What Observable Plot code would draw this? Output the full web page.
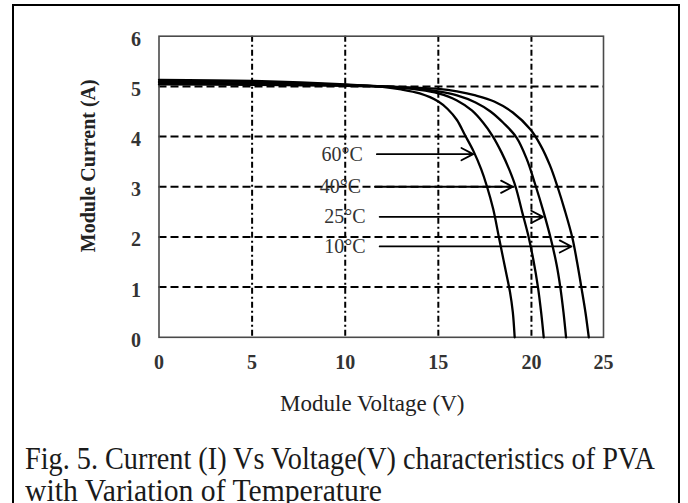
<!DOCTYPE html>
<html>
<head>
<meta charset="utf-8">
<script src="https://cdn.jsdelivr.net/npm/d3@7"></script>
<script src="https://cdn.jsdelivr.net/npm/@observablehq/plot@0.6"></script>
<style>
  html, body { margin: 0; padding: 0; background: #fff; width: 688px; height: 503px; overflow: hidden; }
  #box { position: absolute; left: 11.7px; top: 4.3px; width: 668.3px; height: 520px; border: 2.4px solid #000; box-sizing: border-box; }
  #chart { position: absolute; left: 0; top: 0; }
  .cap { position: absolute; left: 25px; font-family: "Liberation Serif", serif; font-size: 31px; line-height: 32px; color: #1a1a1a; white-space: nowrap; transform-origin: 0 0; }
</style>
</head>
<body>
<div id="box"></div>
<div id="chart"></div>
<div class="cap" id="cap1" style="top:443px">Fig. 5. Current (I) Vs Voltage(V) characteristics of PVA</div>
<div class="cap" id="cap2" style="top:475px">with Variation of Temperature</div>
<script>
// Temperatures (series)
const temps = ["60°C", "40°C", "25°C", "10°C"];

// I–V curves
const voltage60 = [0, 5, 10, 12, 13, 14, 15, 15.5, 16, 16.4, 16.9, 17.3, 17.6, 17.95, 18.25, 18.55, 18.85, 19.0, 19.1];
const current60 = [5.13, 5.11, 5.04, 4.99, 4.94, 4.86, 4.7, 4.55, 4.33, 4.05, 3.7, 3.35, 3.02, 2.55, 2.0, 1.45, 0.9, 0.5, 0];

const voltage40 = [0, 5, 10, 12, 14, 15, 16, 16.8, 17.4, 17.9, 18.4, 18.8, 19.15, 19.5, 19.85, 20.1, 20.35, 20.52, 20.66];
const current40 = [5.10, 5.09, 5.03, 5.0, 4.93, 4.86, 4.72, 4.52, 4.28, 4.02, 3.68, 3.35, 3.0, 2.5, 2.0, 1.55, 1.0, 0.5, 0];

const voltage25 = [0, 5, 10, 12, 14, 15, 16, 17, 17.8, 18.5, 19.2, 19.75, 20.2, 20.65, 21.05, 21.35, 21.55, 21.72, 21.86];
const current25 = [5.07, 5.06, 5.02, 5.0, 4.95, 4.9, 4.82, 4.68, 4.5, 4.27, 3.98, 3.55, 3.05, 2.5, 1.95, 1.45, 1.0, 0.5, 0];

const voltage10 = [0, 5, 10, 12, 14, 15, 16, 17, 18, 19, 19.95, 20.5, 21.0, 21.4, 21.8, 22.2, 22.45, 22.68, 22.9, 23.08];
const current10 = [5.04, 5.03, 5.01, 5.0, 4.97, 4.95, 4.9, 4.82, 4.7, 4.48, 4.14, 3.82, 3.42, 3.0, 2.52, 1.98, 1.5, 1.0, 0.5, 0];

// Annotation arrows (label, start voltage, end voltage, current level)
const arrowLabels = ["60°C", "40°C", "25°C", "10°C"];
const arrowStart = [11.7, 11.6, 11.85, 11.85];
const arrowEnd = [16.87, 19.0, 20.62, 22.15];
const arrowLevel = [3.65, 3.0, 2.4, 1.81];

// Axes
const xMax = 23.87;
const xGrid = [5, 10, 15, 20];
const yGrid = [1, 2, 3, 4, 5];
const xTickValues = [0, 5, 10, 15, 20, xMax];
const xTickLabels = ["0", "5", "10", "15", "20", "25"];
const yTickValues = [0, 1, 2, 3, 4, 5, 6];
const yTickLabels = ["0", "1", "2", "3", "4", "5", "6"];

const series = [
  [temps[0], voltage60, current60],
  [temps[1], voltage40, current40],
  [temps[2], voltage25, current25],
  [temps[3], voltage10, current10]
];
const rows = series.flatMap(([t, vs, is]) => vs.map((v, k) => ({temp: t, v, i: is[k]})));
const arrows = arrowLabels.map((label, k) => ({label, x1: arrowStart[k], x2: arrowEnd[k], y: arrowLevel[k]}));

const serif = "'Liberation Serif', 'Times New Roman', serif";

const plot = Plot.plot({
  width: 688,
  height: 430,
  marginLeft: 158.5,
  marginRight: 85,
  marginTop: 35.7,
  marginBottom: 93.2,
  style: {fontFamily: serif, background: "transparent"},
  x: {domain: [0, xMax], axis: null},
  y: {domain: [0, 6], axis: null},
  marks: [
    Plot.gridX(xGrid, {stroke: "#000", strokeOpacity: 1, strokeWidth: 2, strokeDasharray: "6,3,2,3"}),
    Plot.gridY(yGrid, {stroke: "#000", strokeOpacity: 1, strokeWidth: 2, strokeDasharray: "8,4"}),
    Plot.frame({stroke: "#4a4a4a", strokeWidth: 1.6}),
    Plot.line(rows, {x: "v", y: "i", z: "temp", stroke: "#000", strokeWidth: 2.3, curve: "catmull-rom"}),
    Plot.arrow(arrows, {x1: "x1", y1: "y", x2: "x2", y2: "y", bend: 0, stroke: "#000", strokeWidth: 1.8, headAngle: 55, headLength: 11}),
    Plot.text(arrows, {x: "x1", y: "y", text: "label", textAnchor: "end", dx: -14, fontSize: 20, fill: "#333"}),
    Plot.axisX(xTickValues, {tickSize: 0, tickPadding: 17, fontSize: 20, fontWeight: "bold", color: "#333", label: null,
      tickFormat: d => xTickLabels[xTickValues.indexOf(d)]}),
    Plot.axisY(yTickValues, {tickSize: 0, tickPadding: 18, fontSize: 20, fontWeight: "bold", color: "#333", label: null, dy: 3,
      tickFormat: d => yTickLabels[yTickValues.indexOf(d)]}),
    Plot.text(["Module Voltage (V)"], {frameAnchor: "bottom", textAnchor: "middle", lineAnchor: "middle", dx: -9, dy: 66, fontSize: 23, fill: "#222"}),
    Plot.text(["Module Current (A)"], {frameAnchor: "left", textAnchor: "middle", lineAnchor: "middle", rotate: -90, dx: -70.5, dy: -21, fontSize: 20, fontWeight: "bold", fill: "#222"})
  ]
});
document.getElementById("chart").appendChild(plot);

// squeeze caption lines horizontally to the reference's widths
const c1 = document.getElementById("cap1"), c2 = document.getElementById("cap2");
c1.style.transform = `scaleX(${630 / c1.getBoundingClientRect().width})`;
c2.style.transform = `scaleX(${357 / c2.getBoundingClientRect().width})`;
</script>
</body>
</html>
